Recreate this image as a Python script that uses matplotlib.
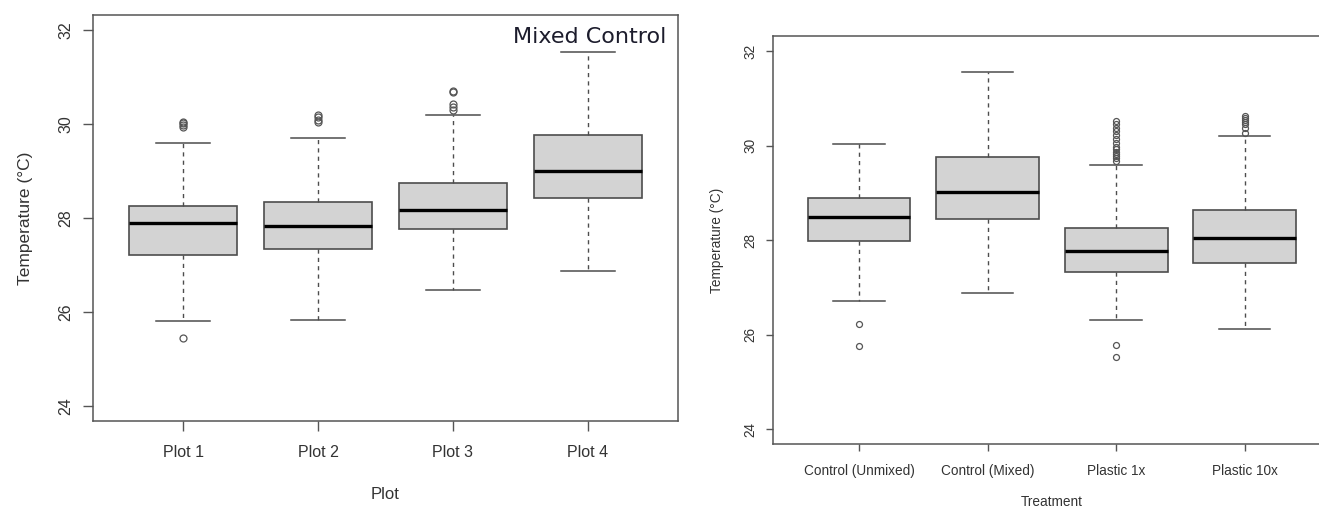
import matplotlib
matplotlib.use("Agg")
import matplotlib.pyplot as plt

plt.rcParams["font.family"] = ["Liberation Sans", "DejaVu Sans"]

# left panel: mixed control, by plot
plot_labels = ["Plot 1", "Plot 2", "Plot 3", "Plot 4"]
plot_whislo = [25.81, 25.82, 26.47, 26.87]
plot_q1 = [27.21, 27.33, 27.77, 28.42]
plot_med = [27.89, 27.84, 28.16, 29.01]
plot_q3 = [28.26, 28.33, 28.75, 29.77]
plot_whishi = [29.59, 29.71, 30.20, 31.54]
plot_fliers = [
    [25.44, 29.93, 29.98, 30.02, 30.05],
    [30.04, 30.09, 30.14, 30.19],
    [30.30, 30.36, 30.42, 30.68, 30.71],
    [],
]

# right panel: by treatment
treat_labels = ["Control (Unmixed)", "Control (Mixed)", "Plastic 1x", "Plastic 10x"]
treat_whislo = [26.71, 26.89, 26.32, 26.13]
treat_q1 = [27.99, 28.44, 27.33, 27.52]
treat_med = [28.49, 29.02, 27.78, 28.05]
treat_q3 = [28.90, 29.77, 28.25, 28.63]
treat_whishi = [30.03, 31.55, 29.58, 30.20]
treat_fliers = [
    [25.76, 26.22],
    [],
    [25.53, 25.78, 29.68, 29.73, 29.78, 29.82, 29.87, 29.92, 29.98,
     30.05, 30.15, 30.22, 30.30, 30.38, 30.45, 30.52],
    [30.27, 30.38, 30.45, 30.50, 30.55, 30.58, 30.62],
]

TEXT = "#333333"
EDGE = "#4d4d4d"


def make_stats(labels, whislo, q1, med, q3, whishi, fliers):
    stats = []
    for i in range(len(labels)):
        stats.append({
            "label": labels[i], "whislo": whislo[i], "q1": q1[i],
            "med": med[i], "q3": q3[i], "whishi": whishi[i],
            "fliers": fliers[i],
        })
    return stats


def draw_box(ax, stats, fs, ms, tick_len):
    ax.bxp(
        stats, positions=range(1, len(stats) + 1), widths=0.8,
        capwidths=0.4, patch_artist=True, showfliers=True,
        boxprops=dict(facecolor="#d3d3d3", edgecolor=EDGE, linewidth=1.2),
        medianprops=dict(color="black", linewidth=2.4),
        whiskerprops=dict(color=EDGE, linewidth=1.0, linestyle=(0, (3, 3))),
        capprops=dict(color=EDGE, linewidth=1.1),
        flierprops=dict(marker="o", markerfacecolor="none",
                        markeredgecolor="#555555", markersize=ms,
                        markeredgewidth=0.9),
    )
    ax.set_xlim(0.33, 4.67)
    ax.set_ylim(23.68, 32.32)
    ax.set_yticks([24, 26, 28, 30, 32])
    for s in ax.spines.values():
        s.set_color("#555555")
        s.set_linewidth(1.1)
    ax.tick_params(colors="#555555", labelcolor=TEXT, labelsize=fs,
                   length=tick_len, width=1.0)
    for t in ax.get_yticklabels():
        t.set_rotation(90)
        t.set_va("center")


fig = plt.figure(figsize=(13.19, 5.08), dpi=100)

ax1 = fig.add_axes([0.0705, 0.1713, 0.4435, 0.7992])
draw_box(ax1, make_stats(plot_labels, plot_whislo, plot_q1, plot_med,
                         plot_q3, plot_whishi, plot_fliers), 11.5, 5, 7)
ax1.tick_params(axis="x", pad=10)
ax1.tick_params(axis="y", pad=7)
ax1.set_xlabel("Plot", fontsize=12, color=TEXT, va="center")
ax1.xaxis.set_label_coords(0.499, -0.182)
ax1.set_ylabel("Temperature (°C)", fontsize=12.5, color=TEXT, va="center")
ax1.yaxis.set_label_coords(-0.116, 0.5)
ax1.text(0.98, 0.946, "Mixed Control", transform=ax1.transAxes,
         ha="right", va="center", fontsize=16, color="#1c1c2c",
         family="DejaVu Sans")

ax2 = fig.add_axes([0.586, 0.1254, 0.423, 0.8037])
draw_box(ax2, make_stats(treat_labels, treat_whislo, treat_q1, treat_med,
                         treat_q3, treat_whishi, treat_fliers), 9.8, 4.3, 5)
ax2.tick_params(axis="x", pad=9)
ax2.tick_params(axis="y", pad=6)
ax2.set_xlabel("Treatment", fontsize=9.8, color=TEXT, va="center")
ax2.xaxis.set_label_coords(0.5, -0.141)
ax2.set_ylabel("Temperature (°C)", fontsize=9.8, color=TEXT, va="center")
ax2.yaxis.set_label_coords(-0.1, 0.5)

fig.savefig("out.png", dpi=100)
